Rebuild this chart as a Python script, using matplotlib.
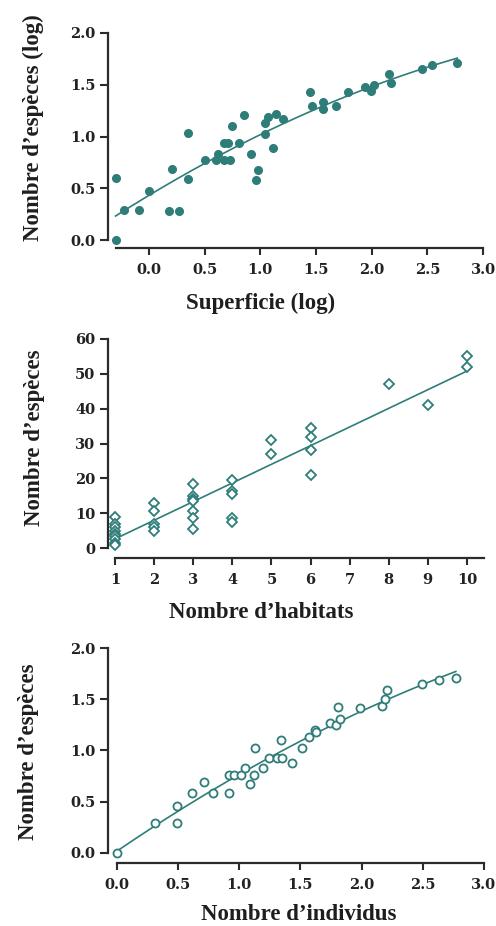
import numpy as np
import matplotlib
matplotlib.use("Agg")
import matplotlib.pyplot as plt

# ---------------- data ----------------
# Panel 1: log area vs log species
area_log = [-0.30, -0.30, -0.22, -0.09, 0.00, 0.18, 0.27, 0.21, 0.35, 0.35,
            0.50, 0.60, 0.62, 0.67, 0.71, 0.67, 0.73, 0.75, 0.81, 0.85,
            0.92, 0.98, 0.96, 1.04, 1.04, 1.07, 1.11, 1.14, 1.20, 1.45,
            1.46, 1.56, 1.56, 1.68, 1.79, 1.94, 1.99, 2.02, 2.16, 2.17,
            2.45, 2.54, 2.77]
species_log1 = [0.60, 0.00, 0.29, 0.29, 0.47, 0.28, 0.28, 0.69, 1.03, 0.59,
                0.77, 0.77, 0.83, 0.94, 0.94, 0.77, 0.77, 1.10, 0.94, 1.21,
                0.83, 0.68, 0.58, 1.02, 1.13, 1.19, 0.89, 1.22, 1.17, 1.43,
                1.29, 1.33, 1.27, 1.29, 1.43, 1.48, 1.44, 1.50, 1.60, 1.52,
                1.65, 1.69, 1.71]

# Panel 2: number of habitats vs number of species
habitats = [1, 1, 1, 1, 1, 1, 1, 1, 1,
            2, 2, 2, 2, 2,
            3, 3, 3, 3, 3, 3, 3,
            4, 4, 4, 4, 4,
            5, 5,
            6, 6, 6, 6,
            8, 9, 10, 10]
species_n = [9, 7, 6, 5, 4, 3.5, 2.5, 1.5, 1,
             13, 10.5, 7, 6, 5,
             18.5, 15, 14, 13.5, 10.5, 8.5, 5.5,
             19.5, 16.5, 15.5, 8.5, 7.5,
             31, 27,
             34.5, 32, 28, 21,
             47, 41, 55, 52]

# Panel 3: log individuals vs log species
indiv_log = [0.00, 0.31, 0.49, 0.49, 0.61, 0.71, 0.785, 0.915, 0.915, 0.96,
             1.016, 1.05, 1.09, 1.12, 1.125, 1.19, 1.24, 1.31, 1.35, 1.34,
             1.43, 1.51, 1.57, 1.62, 1.63, 1.74, 1.79, 1.81, 1.82, 1.99,
             2.17, 2.19, 2.21, 2.49, 2.63, 2.77]
species_log3 = [0.00, 0.29, 0.46, 0.29, 0.59, 0.69, 0.59, 0.59, 0.76, 0.76,
                0.76, 0.83, 0.67, 0.76, 1.02, 0.83, 0.93, 0.93, 0.93, 1.10,
                0.88, 1.02, 1.13, 1.20, 1.18, 1.27, 1.25, 1.42, 1.31, 1.41,
                1.43, 1.50, 1.59, 1.65, 1.69, 1.71]

y_ticks_log = [0.0, 0.5, 1.0, 1.5, 2.0]
x_ticks_log1 = [0.0, 0.5, 1.0, 1.5, 2.0, 2.5, 3.0]
x_ticks_log3 = [0.0, 0.5, 1.0, 1.5, 2.0, 2.5, 3.0]
y_ticks_n = [0, 10, 20, 30, 40, 50, 60]
x_ticks_n = [1, 2, 3, 4, 5, 6, 7, 8, 9, 10]

# ---------------- style ----------------
TEAL = "#2e7d79"
SPINE = "#2b2b2b"
W, H = 496, 926
fig = plt.figure(figsize=(W / 100, H / 100), dpi=100)
fig.patch.set_facecolor("white")

TICKFONT = dict(family="DejaVu Serif", weight="bold", size=10.5)
LABFONT = dict(family="Liberation Serif", weight="bold", size=16.5)


def make_axes(px_left, px_right, px_top, px_bottom):
    return fig.add_axes([px_left / W, 1 - px_bottom / H,
                         (px_right - px_left) / W, (px_bottom - px_top) / H])


def style(ax, xticks, yticks, xbounds, ybounds, xfmt, yfmt):
    for s in ["top", "right"]:
        ax.spines[s].set_visible(False)
    for s in ["left", "bottom"]:
        ax.spines[s].set_color(SPINE)
        ax.spines[s].set_linewidth(1.6)
    ax.spines["bottom"].set_bounds(*xbounds)
    ax.spines["left"].set_bounds(*ybounds)
    ax.set_xticks(xticks)
    ax.set_yticks(yticks)
    ax.set_xticklabels([xfmt(v) for v in xticks], **TICKFONT)
    ax.set_yticklabels([yfmt(v) for v in yticks], **TICKFONT)
    ax.tick_params(axis="y", direction="out", length=5.5, width=1.5,
                   color=SPINE, pad=3.5, labelcolor="#222222")
    ax.tick_params(axis="x", direction="out", length=5, width=1.5,
                   color=SPINE, pad=6, labelcolor="#222222")
    ax.patch.set_alpha(0)


f1 = lambda v: f"{v:.1f}"
fi = lambda v: f"{v:d}"

# ---- Panel 1 ----
ax1 = make_axes(108, 483, 33, 248)
ax1.set_xlim(-0.368, 3.0)
ax1.set_ylim(-0.077, 2.0)
c1 = np.polyfit(area_log, species_log1, 2)
xs1 = np.linspace(min(area_log), max(area_log), 200)
ax1.plot(xs1, np.polyval(c1, xs1), color=TEAL, lw=1.2, zorder=2)
ax1.plot(area_log, species_log1, "o", color=TEAL, ms=5.5, mec=TEAL, zorder=3,
         clip_on=False)
style(ax1, x_ticks_log1, y_ticks_log, (-0.3, 3.0), (0, 2.0), f1, f1)

# ---- Panel 2 ----
ax2 = make_axes(108, 484.5, 339, 558)
ax2.set_xlim(0.821, 10.45)
ax2.set_ylim(-2.87, 60)
c2 = np.polyfit(habitats, species_n, 1)
xs2 = np.linspace(1, 10, 50)
ax2.plot(xs2, np.polyval(c2, xs2), color=TEAL, lw=1.2, zorder=2)
ax2.plot(habitats, species_n, "D", mfc="white", mec=TEAL, mew=1.3, ms=5.5,
         zorder=3, clip_on=False)
style(ax2, x_ticks_n, y_ticks_n, (1, 10.45), (0, 60), fi, fi)

# ---- Panel 3 ----
ax3 = make_axes(108, 484, 648, 863)
ax3.set_xlim(-0.073, 3.0)
ax3.set_ylim(-0.0976, 2.0)
c3 = np.polyfit(indiv_log, species_log3, 2)
xs3 = np.linspace(min(indiv_log), max(indiv_log), 200)
ax3.plot(xs3, np.polyval(c3, xs3), color=TEAL, lw=1.2, zorder=2)
ax3.plot(indiv_log, species_log3, "o", mfc="white", mec=TEAL, mew=1.3, ms=5.8,
         zorder=3, clip_on=False)
style(ax3, x_ticks_log3, y_ticks_log, (0, 3.0), (0, 2.0), f1, f1)

# ---- labels ----
def ftext(px, py, s, rot=0):
    fig.text(px / W, 1 - py / H, s, ha="center", va="center", rotation=rot,
             color="#1e1e1e", **LABFONT)

ftext(33, 128, "Nombre d’espèces (log)", rot=90)
ftext(261, 303, "Superficie (log)")
ftext(35, 438, "Nombre d’espèces", rot=90)
ftext(261, 613, "Nombre d’habitats")
ftext(29, 752, "Nombre d’espèces", rot=90)
ftext(299, 914, "Nombre d’individus")

fig.savefig("out.png", dpi=100)
